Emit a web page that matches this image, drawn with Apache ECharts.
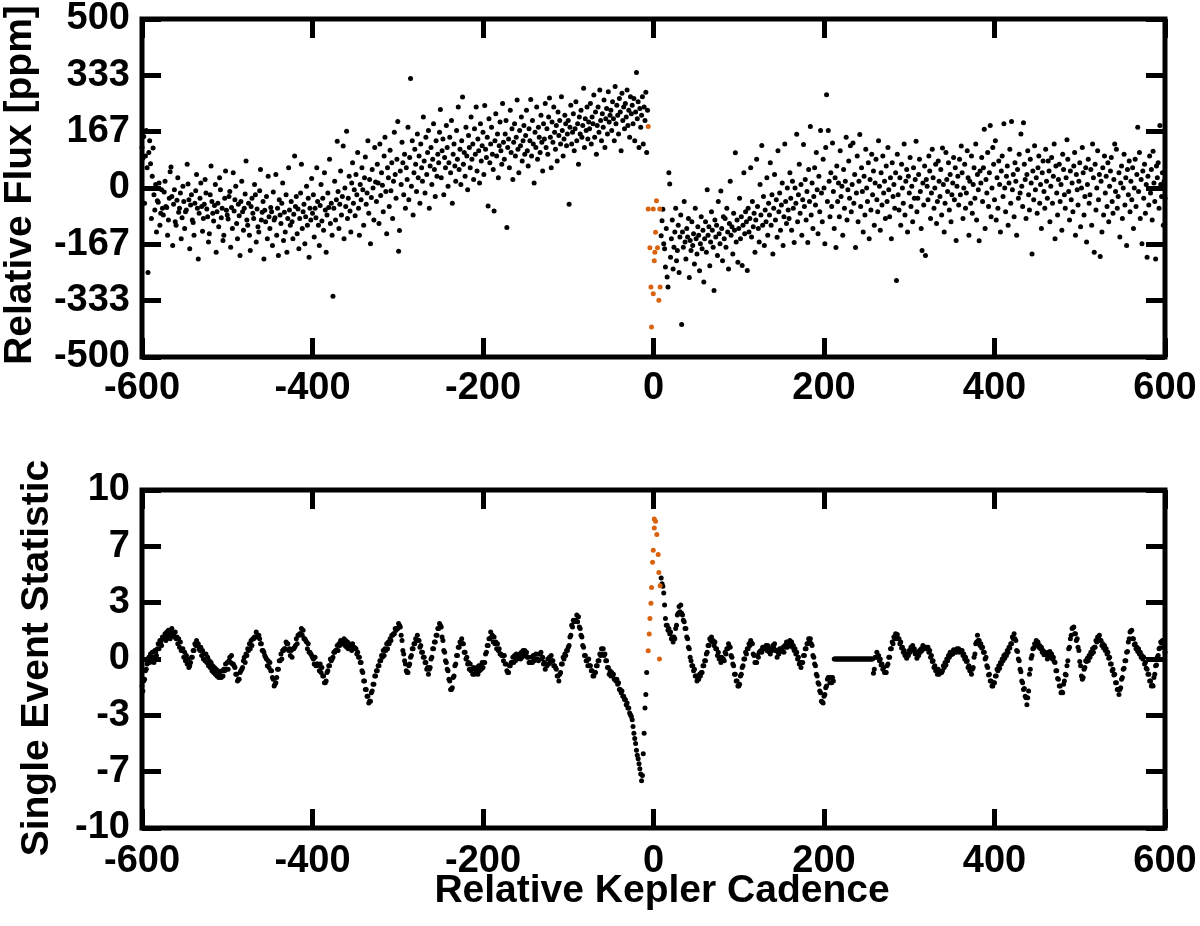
<!DOCTYPE html>
<html>
<head>
<meta charset="utf-8">
<script src="https://cdn.jsdelivr.net/npm/echarts/dist/echarts.min.js"></script>
<style>
html,body{margin:0;padding:0;background:#fff;}
#chart{width:1200px;height:926px;}
</style>
</head>
<body>
<div id="chart"></div>
<script>
// ---------- data ----------
const X_MIN = -600, X_MAX = 600, X_STEP = 200;
const FLUX_MIN = -500, FLUX_MAX = 500;
const SES_MIN = -10, SES_MAX = 10;

// Relative flux [ppm], one value per cadence
const FLUX_PRE_START = -600;
const FLUX_PRE = [
120,88,152,-45,95,170,60,-250,105,140,72,-90,35,118,-20,-65,10,-130,-38,-42,15,-110,-75,-5,-60,
-80,-12,20,-55,-58,-140,-95,-30,48,62,-25,-170,-48,-5,-100,-110,-36,30,-72,-60,-15,-150,-88,5,-40,
-120,-70,-65,70,12,-35,-180,-50,-20,-95,-102,-140,-45,-8,40,-60,-210,-75,-30,15,-55,-128,-90,-48,25,
-15,-62,-85,-160,-135,-20,65,-40,-75,-98,-52,10,-190,-70,-45,-115,30,-5,-88,-60,-155,-140,-30,50,-66,
-80,-92,-25,-10,-175,-58,-120,45,-68,-35,5,-105,-150,-48,-82,-200,-40,20,-70,-125,-60,-18,80,-95,-110,
-45,-140,-185,-55,-30,-75,-90,10,-20,-160,-62,-115,-130,-8,55,-95,-72,-40,-210,-66,-100,-25,-150,35,-85,
-120,-58,-70,-170,-12,-95,-88,40,-140,-60,-200,-35,-80,-105,-45,15,-155,-72,-130,-20,-190,-90,60,-65,-110,
-40,-100,-150,-78,95,-55,-25,-135,-62,-180,-90,-15,70,-120,-70,-48,-165,-85,5,-110,-30,-205,-60,-95,28,
-75,-20,-145,-60,-88,60,-40,-110,-170,-52,10,-98,-30,-125,45,-65,-190,-80,-15,-58,85,-105,-45,-140,-320,
-60,20,-95,-35,138,-10,-120,-48,50,-80,-25,124,-150,0,-55,168,-90,-30,35,-68,-130,15,75,-45,-5,
-82,40,-20,105,-60,-140,10,-35,60,-5,-110,30,92,-48,-15,140,-75,25,-165,-28,55,0,-95,120,18,
-40,70,15,-105,130,-22,45,8,-70,95,150,-10,-135,60,30,-55,112,-8,75,-90,20,165,40,-30,85,
197,-187,-126,50,10,135,75,-20,100,-60,60,25,180,-35,90,324,5,140,-80,45,115,70,-10,160,30,
95,-45,130,60,20,210,80,-15,150,40,105,170,-60,65,120,10,85,190,55,-25,140,35,100,75,165,
232,30,110,145,-20,90,60,185,120,5,75,150,45,200,-45,100,130,65,20,170,85,240,55,115,10,
140,269,70,105,35,180,95,-5,155,120,60,210,85,130,25,175,100,240,50,145,110,15,190,80,125,
165,40,244,115,90,150,-53,205,75,130,180,100,55,-68,140,220,95,160,30,125,195,110,70,250,135,
85,160,200,-117,120,145,60,230,105,175,25,135,190,95,150,260,115,45,170,125,210,80,140,185,100,
155,230,110,65,175,140,262,95,200,130,15,165,120,240,85,180,150,105,215,135,50,190,145,250,120,
175,100,210,266,150,60,195,135,240,165,115,185,80,225,155,200,130,270,170,95,145,215,190,125,160,
200,-48,180,245,130,165,220,110,175,255,140,190,70,210,160,230,150,185,295,120,205,170,240,145,195,
175,250,130,210,190,275,150,225,100,185,240,165,290,200,140,220,180,260,120,205,235,160,285,195,215,
230,170,255,205,140,300,190,245,215,160,265,225,110,280,200,240,175,250,210,290,185,230,150,270,220,
245,190,265,140,225,342,205,255,120,235,180,215,270,130,240,200,283,105,230
];
const FLUX_POST_START = 9;
const FLUX_POST = [
-141,-97,-63,-165,-180,-234,-120,-263,-293,45,12,-205,-150,-95,-240,-175,-130,-60,-215,-185,-110,-250,-145,-80,-404,
-130,-175,-40,-160,-210,-120,-145,-90,-265,-155,-185,-100,-170,-135,-225,-60,-150,-195,-115,-140,-245,-165,-85,-180,-125,
-278,-150,-100,-190,-5,-140,-115,-230,-160,-70,-125,-175,-303,-95,-145,-110,-200,-40,-135,-165,-9,-120,-215,-85,-150,
-90,-175,-60,-130,-240,-105,20,-140,-115,-195,-75,-125,104,-160,-95,-220,-120,-30,-150,-85,-229,-110,45,-135,-70,
-100,-244,-60,-130,-90,60,-145,-40,-115,-75,-190,-95,85,-55,-120,-160,10,-80,126,-110,-25,-170,-65,-100,30,
-140,-45,-80,75,-110,-20,-195,-60,40,-95,-35,-146,110,-70,-15,-125,-50,15,-170,-85,130,-40,-105,0,-65,
-90,45,-30,-125,20,-60,-161,0,-45,159,-100,-20,70,-75,10,-140,-35,129,-55,25,-95,-10,-161,55,-40,
182,-80,15,-120,-25,60,-50,105,-5,-135,35,-70,170,-15,-100,85,0,-165,120,276,-40,170,20,-85,45,
-55,133,-10,-120,30,-176,65,-40,15,-85,110,-25,5,-140,55,-60,20,150,-95,-5,80,-30,125,-70,10,
133,-45,40,-176,-15,95,-100,20,158,-55,60,-10,-130,35,-80,115,0,-40,75,-150,25,-65,100,-20,50,
-110,15,85,-35,-70,140,5,-125,45,-50,95,-15,20,-90,65,-40,120,-5,-85,30,-150,75,-25,10,-60,
45,-274,100,-20,-65,30,-110,70,0,-45,130,-80,20,55,-130,35,-15,90,-55,5,-100,60,-30,25,138,
-70,-30,40,85,-10,-120,-185,15,-50,65,-200,25,5,-35,95,50,-90,-15,115,30,-60,0,70,-105,-40,
80,20,-25,55,-80,118,10,-130,-45,105,25,-10,75,-65,40,-100,-20,15,90,-35,60,-155,5,35,-50,
85,-20,124,45,-90,0,70,-60,-15,110,30,-140,20,-45,95,-75,10,60,-30,130,-95,40,-5,-156,50,
15,90,-40,60,174,-120,25,-15,105,-55,45,185,-85,0,120,70,-35,140,-95,30,-60,80,10,-130,50,
95,-25,190,0,-70,35,65,-110,15,115,-45,197,-5,40,-85,75,20,-140,55,-30,100,-15,160,5,-55,
193,70,25,-90,40,110,-20,-65,85,15,-195,50,-35,125,-5,30,-75,60,95,-45,10,-120,45,80,-10,
-60,115,20,-30,80,50,-100,5,90,-45,35,130,-150,65,-15,-80,25,70,-40,10,-125,100,55,-20,-60,
30,143,85,-10,-95,50,-35,15,-70,65,105,-140,40,-5,-50,20,75,-115,0,120,45,-80,-25,60,-160,
10,85,-45,-20,55,-110,130,30,-190,70,-65,0,110,-35,40,-203,20,-130,60,-80,95,-15,35,-55,75,
-100,5,50,90,-40,-75,25,130,-10,115,-60,-25,45,-145,15,65,-90,0,100,-50,30,-170,55,-20,80,
-70,20,-35,60,-120,0,85,-55,40,180,-10,105,-90,25,-165,50,-30,70,-75,10,-205,35,-50,95,-15,
55,-95,109,15,-40,-210,65,30,75,-60,185,10,-25,45,-110,20,-30
];
// in-transit cadences (orange): [cadence, ppm]
const FLUX_TRANSIT = [
[-6.2,182],[-6.2,-62],[-4.2,-177],[-3.0,-293],[-2.3,-411],[-0.3,-313],[-0.3,-62],[0.9,-215],
[1.6,-190],[2.4,-131],[3.5,-38],[4.7,-177],[6.3,-332],[7.4,-62],[7.8,-293]
];

// Single event statistic, one value per cadence
const SES_PRE_START = -600;
const SES_PRE = [
-1.6,-1.9,-1.3,-1.2,-0.7,-0.6,-0.3,-0.2,0.1,-0.2,0.3,0.0,0.4,0.1,-0.2,0.5,0.4,0.2,0.6,0.9,0.6,1.1,1.0,0.8,1.3,
1.2,1.3,1.5,1.1,1.6,1.3,1.7,1.4,1.2,1.6,1.8,1.4,1.5,1.3,1.6,1.2,1.3,0.9,1.2,0.7,1.0,0.5,0.5,0.6,0.1,
0.4,-0.1,0.2,-0.3,0.0,-0.5,-0.4,-0.2,0.1,0.1,0.5,0.5,0.9,0.8,1.1,0.8,0.9,0.6,0.5,0.7,0.2,0.5,0.0,0.3,-0.1,
0.3,-0.2,0.1,-0.4,-0.1,-0.5,-0.2,-0.7,-0.4,-0.8,-0.5,-0.9,-0.6,-1.0,-0.7,-1.1,-0.8,-1.05,-1.1,-0.7,-1.0,-0.6,-0.7,-0.3,-0.6,
-0.2,-0.6,-0.1,0.1,-0.2,0.2,-0.3,-0.3,-0.4,-0.5,-0.9,-0.9,-1.3,-1.2,-1.2,-0.8,-0.7,-0.6,-0.5,-0.1,0.1,-0.2,0.3,0.2,0.6,
0.5,0.9,0.6,1.1,0.8,1.2,1.2,1.3,1.3,1.6,1.3,1.4,1.4,1.2,0.9,0.9,0.5,0.5,0.4,0.2,0.1,0.0,-0.4,-0.1,-0.5,
-0.2,-0.7,-0.7,-1.1,-1.2,-1.6,-1.5,-1.4,-1.1,-0.6,-0.6,-0.1,-0.1,0.3,0.0,0.5,0.5,0.6,0.6,1.0,0.9,0.9,0.5,0.6,0.2,
0.5,0.1,0.6,0.6,0.7,0.8,1.2,0.9,1.4,1.4,1.5,1.5,1.8,1.4,1.7,1.2,1.2,1.1,1.0,0.6,0.9,0.4,0.4,0.3,0.2,
0.1,0.0,-0.3,0.1,-0.4,-0.3,-0.3,-0.4,-0.7,-0.3,-0.8,-0.5,-1.0,-1.0,-1.4,-1.4,-1.3,-0.8,-0.7,-0.4,-0.4,0.0,-0.1,0.0,0.1,
0.4,0.4,0.5,0.5,0.8,0.5,0.9,0.8,1.1,1.0,1.0,0.9,1.2,0.8,1.1,0.7,1.0,0.6,0.9,0.8,0.8,0.5,0.9,0.6,0.7,
0.6,0.6,0.3,0.4,0.1,0.1,-0.2,-0.2,-0.7,-0.8,-1.3,-1.3,-1.8,-1.8,-2.2,-2.2,-2.6,-2.5,-2.5,-2.0,-1.9,-1.5,-1.5,-1.0,-1.0,
-0.7,-0.7,-0.4,-0.4,-0.1,-0.1,0.2,0.1,0.5,0.2,0.6,0.5,0.9,0.6,1.0,0.9,1.2,1.1,1.4,1.4,1.5,1.5,1.8,1.7,1.8,
1.8,2.1,2.0,1.9,1.4,1.1,0.5,0.3,-0.1,-0.3,-0.7,-0.8,-0.8,-0.4,-0.3,0.1,0.2,0.6,0.6,0.9,0.9,1.2,1.1,1.4,1.1,
1.1,0.7,0.8,0.4,0.4,0.1,0.1,-0.2,-0.2,-0.6,-0.5,-0.9,-0.6,-0.5,0.0,0.1,0.6,0.6,1.0,1.0,1.4,1.4,1.8,1.8,2.1,
2.0,1.9,1.3,1.1,0.5,0.4,-0.1,-0.2,-0.6,-0.7,-1.2,-1.3,-1.8,-1.8,-1.7,-1.1,-1.0,-0.4,-0.3,0.2,0.2,0.7,0.7,1.0,0.9,
1.2,0.9,0.9,0.4,0.4,0.0,0.1,-0.3,-0.2,-0.6,-0.3,-0.7,-0.6,-0.9,-0.5,-0.9,-0.6,-0.8,-0.5,-0.9,-0.4,-0.7,-0.4,-0.6,-0.2,
-0.5,-0.2,-0.2,0.3,0.4,0.8,0.8,1.2,1.2,1.6,1.3,1.4,1.0,1.3,0.9,1.0,0.6,0.9,0.5,0.6,0.3,0.3,0.2,0.2,-0.1,
0.2,-0.3,-0.3,-0.7,-0.8,-0.8,-0.4,-0.4,-0.2,-0.2,0.1,-0.2,0.2,-0.1,0.3,0.0,0.2,0.2,0.3,0.0,0.4,0.1,0.5,0.2,0.5,
0.3,0.4,0.1,0.1,-0.2,-0.2,-0.2,0.1,-0.2,0.2,-0.1,0.0,0.3,0.0,0.0,-0.1,0.3,0.3,0.4,0.0,0.1,-0.3,-0.2,-0.6,-0.3,
-0.4,0.0,-0.3,0.1,-0.2,0.2,-0.1,-0.1,-0.4,-0.4,-0.5,-0.6,-1.0,-1.0,-1.3,-0.9,-0.8,-0.3,-0.3,0.1,0.0,0.3,0.2,0.5,0.5,
0.7,0.8,1.3,1.4,2.0,1.9,2.3,2.2,2.3,2.3,2.6,2.2,2.5,1.9,1.8,1.4,1.3,0.8,0.7,0.2,0.2,-0.1,-0.1,-0.4,0.0,
-0.4,-0.4,-0.7,-0.7,-1.0,-1.0,-0.8,-0.8,-0.4,-0.4,-0.1,-0.1,0.3,0.2,0.6,0.3,0.6,0.2,0.3,-0.1,-0.1,-0.5,-0.5,-0.9,-0.7,
-1.0,-0.8,-1.0,-0.9,-1.2,-1.2,-1.3,-1.2,-1.5,-1.4,-1.8,-1.8,-2.0,-1.9,-2.2,-2.2,-2.4,-2.4,-2.7,-2.6,-2.9,-2.9,-3.2,-3.3,-3.4,
-3.6,-4.0,-4.4,-4.7,-5.0,-5.4,-5.7,-5.9,-6.2,-6.5,-6.8,-7.2,-6.9,-5.6,-4.4,-2.9,-2.1,-0.8
];
const SES_POST_START = 9;
const SES_POST = [
4.8,4.45,4.3,3.9,3.2,2.4,2.0,2.0,1.7,1.8,1.5,1.6,1.2,1.3,1.0,1.3,1.2,1.8,2.0,2.6,2.7,3.1,2.8,3.2,2.7,
2.6,2.3,2.2,1.8,1.8,1.3,1.2,0.7,0.6,0.1,-0.1,-0.4,-0.4,-0.7,-0.6,-1.0,-1.0,-1.3,-1.2,-1.2,-0.9,-1.0,-0.8,-0.8,-0.4,
-0.4,-0.1,-0.1,0.3,0.4,0.8,0.8,1.2,1.1,1.3,1.0,1.1,0.8,1.0,0.6,0.6,0.2,0.4,0.0,0.1,-0.2,0.1,0.0,0.0,-0.1,
0.4,0.3,0.6,0.6,0.9,0.75,0.7,0.2,0.1,-0.3,-0.4,-0.9,-0.9,-1.3,-1.3,-1.6,-1.6,-1.5,-1.0,-0.9,-0.5,-0.4,0.0,0.0,0.4,
0.3,0.6,0.6,0.9,0.8,1.1,0.95,0.9,0.3,0.2,-0.2,-0.2,-0.2,0.2,0.1,0.4,0.45,0.5,0.4,0.7,0.6,0.7,0.65,0.8,0.5,
0.8,0.45,0.6,0.3,0.6,0.5,0.8,0.7,0.9,0.5,0.5,0.1,0.4,0.3,0.6,0.5,0.6,0.45,0.7,0.4,0.8,0.7,1.0,0.7,1.0,
0.8,1.1,0.95,1.0,0.7,0.8,0.5,0.6,0.3,0.4,0.0,0.1,-0.3,-0.2,-0.5,-0.2,-0.2,0.2,0.2,0.6,0.6,0.9,0.9,1.2,1.05,
1.2,0.9,0.8,0.2,0.1,-0.3,-0.4,-0.9,-1.0,-1.4,-1.5,-1.9,-2.0,-2.5,-2.55,-2.6,-2.2,-2.1,-1.7,-1.6,-1.2,-1.1,-1.1,-1.4,-1.1,
-1.4,-1.1,-1.3,0,0,0,0,0,0,0,0,0,0,0,0,0,0,0,0,0,0,0,0,0,0,
0,0,0,0,0,0,0,0,0,0,0,0,0,0,0,0,0,0,0,0,0,0,0,0,-0.85,
-0.6,0.1,0.1,0.4,0.1,0.2,-0.1,0.0,-0.35,-0.3,-0.6,-0.5,-0.8,-0.8,-0.8,-0.4,-0.3,0.1,0.1,0.6,0.6,1.0,0.9,1.3,1.2,
1.5,1.2,1.45,1.2,1.2,0.9,1.0,0.65,0.7,0.4,0.5,0.2,0.3,0.05,0.3,0.2,0.5,0.4,0.7,0.65,0.8,0.5,0.6,0.3,0.4,
0.05,0.3,0.2,0.5,0.4,0.6,0.5,0.8,0.65,0.7,0.6,0.7,0.65,0.7,0.4,0.5,0.1,0.2,-0.15,-0.1,-0.5,-0.4,-0.7,-0.6,-0.9,
-0.6,-0.9,-0.75,-0.8,-0.8,-0.7,-0.4,-0.5,-0.2,-0.35,0.0,-0.1,0.2,0.1,0.4,0.25,0.4,0.3,0.55,0.4,0.5,0.4,0.6,0.45,0.6,
0.4,0.5,0.45,0.5,0.2,0.3,0.0,0.1,-0.15,-0.1,-0.5,-0.4,-0.7,-0.6,-0.9,-0.6,-0.5,0.1,0.3,0.9,1.0,1.4,1.1,1.1,0.8,
0.9,0.65,0.7,0.4,0.4,0.0,0.1,-0.4,-0.5,-0.95,-0.9,-1.3,-1.3,-1.6,-1.6,-1.4,-1.4,-1.0,-1.0,-0.6,-0.7,-0.4,-0.55,-0.2,-0.3,
0.0,-0.1,0.2,0.05,0.3,0.2,0.5,0.4,0.7,0.65,0.9,0.9,1.3,1.2,1.5,1.2,1.1,0.5,0.45,0.0,-0.1,-0.6,-0.75,-1.3,-1.4,
-1.8,-1.75,-2.2,-2.3,-2.7,-2.3,-1.9,-0.9,-0.6,0.05,0.2,0.6,0.65,0.9,0.8,1.1,0.9,1.0,0.7,0.8,0.6,0.7,0.4,0.5,0.25,
0.4,0.25,0.3,0.0,0.4,0.1,0.45,0.2,0.3,0.0,0.1,-0.15,-0.2,-0.7,-0.7,-1.15,-1.2,-1.6,-1.6,-2.0,-1.95,-2.0,-1.5,-1.3,-0.9,
-0.95,-0.4,-0.1,0.6,0.7,1.2,1.4,1.8,1.85,1.9,1.5,1.5,1.1,1.2,0.7,0.5,-0.15,-0.4,-1.0,-1.2,-1.1,-0.6,-0.5,-0.1,-0.15,
0.05,-0.1,0.2,0.1,0.4,0.3,0.6,0.4,0.7,0.7,1.1,1.0,1.3,1.25,1.4,1.1,1.1,0.8,0.9,0.65,0.8,0.5,0.6,0.3,0.4,
0.05,0.1,-0.3,-0.3,-0.7,-0.6,-0.95,-0.9,-1.4,-1.4,-1.8,-1.8,-2.1,-1.8,-1.7,-1.2,-1.1,-0.6,-0.55,-0.1,-0.1,0.4,0.45,1.0,1.2,
1.6,1.65,1.7,1.2,1.2,0.85,0.9,0.6,0.7,0.45,0.6,0.3,0.4,0.1,0.2,0.0,0.1,-0.3,-0.2,-0.55,-0.6,-0.9,-0.9,-1.3,-1.3,
-1.6,-1.55,-1.6,-1.1,-0.9,-0.4,-0.35,0.1,0.2,0.6,0.65,1.0,0.95,1.1,0.7,0.7,0.4
];
const SES_TRANSIT = [
[-6.2,0.49],[-5.0,1.48],[-4.2,2.39],[-3.0,3.30],[-2.3,4.23],[-1.1,5.72],[-0.3,6.43],[0.9,7.75],
[0.9,8.29],[2.4,8.15],[3.9,7.36],[5.5,6.19],[6.3,5.12],[7.8,4.33],[7.0,0.0]
];

// ---------- chart ----------
const toPairs = (start, arr) => arr.map((v, i) => [start + i, v]);
const FONT = '"Liberation Sans", "Helvetica", Arial, sans-serif';
const BLACK = '#000000', ORANGE = '#d9620f';

function xAxisPair(grid, margin) {
  const base = {
    gridIndex: grid, type: 'value', min: X_MIN, max: X_MAX, interval: X_STEP,
    axisLine: {show: false, onZero: false}, splitLine: {show: false},
    axisTick: {show: true, inside: true, length: 19, lineStyle: {color: BLACK, width: 5}}
  };
  return [
    Object.assign({}, base, {position: 'bottom',
      axisLabel: {show: true, color: BLACK, fontSize: 38, fontWeight: 'bold', fontFamily: FONT, margin: margin}}),
    Object.assign({}, base, {position: 'top', axisLabel: {show: false}})
  ];
}
function yAxisPair(grid, min, max) {
  const base = {
    gridIndex: grid, type: 'value', min: min, max: max, interval: (max - min) / 6,
    axisLine: {show: false, onZero: false}, splitLine: {show: false},
    axisTick: {show: true, inside: true, length: 19, lineStyle: {color: BLACK, width: 5}}
  };
  return [
    Object.assign({}, base, {position: 'left',
      axisLabel: {show: true, color: BLACK, fontSize: 38, fontWeight: 'bold', fontFamily: FONT, margin: 12,
        formatter: v => String(Math.round(v) === 0 ? 0 : Math.round(v))}}),
    Object.assign({}, base, {position: 'right', axisLabel: {show: false}})
  ];
}

const chart = echarts.init(document.getElementById('chart'), null, {renderer: 'canvas'});
const scatter = (xi, yi, data, color) => ({
  type: 'scatter', xAxisIndex: xi, yAxisIndex: yi, data: data,
  symbol: 'circle', symbolSize: 5, itemStyle: {color: color, opacity: 1},
  silent: true, animation: false
});

chart.setOption({
  animation: false,
  backgroundColor: '#ffffff',
  grid: [
    {left: 142, top: 18, width: 1023, height: 339, show: true, borderColor: BLACK, borderWidth: 5, backgroundColor: 'transparent'},
    {left: 142, top: 490, width: 1023, height: 338, show: true, borderColor: BLACK, borderWidth: 5, backgroundColor: 'transparent'}
  ],
  xAxis: [].concat(xAxisPair(0, 13), xAxisPair(1, 15)),
  yAxis: [].concat(yAxisPair(0, FLUX_MIN, FLUX_MAX), yAxisPair(1, SES_MIN, SES_MAX)),
  series: [
    scatter(0, 0, toPairs(FLUX_PRE_START, FLUX_PRE).concat(toPairs(FLUX_POST_START, FLUX_POST)), BLACK),
    scatter(0, 0, FLUX_TRANSIT, ORANGE),
    scatter(2, 2, toPairs(SES_PRE_START, SES_PRE).concat(toPairs(SES_POST_START, SES_POST)), BLACK),
    scatter(2, 2, SES_TRANSIT, ORANGE)
  ],
  graphic: [
    {type: 'text', x: 20, y: 185, rotation: Math.PI / 2,
      style: {text: 'Relative Flux [ppm]', font: 'bold 39px ' + FONT, fill: BLACK,
        align: 'center', verticalAlign: 'middle', textAlign: 'center', textVerticalAlign: 'middle'}},
    {type: 'text', x: 37, y: 658, rotation: Math.PI / 2,
      style: {text: 'Single Event Statistic', font: 'bold 39px ' + FONT, fill: BLACK,
        align: 'center', verticalAlign: 'middle', textAlign: 'center', textVerticalAlign: 'middle'}},
    {type: 'text', x: 662, y: 891,
      style: {text: 'Relative Kepler Cadence', font: 'bold 39px ' + FONT, fill: BLACK,
        align: 'center', verticalAlign: 'middle', textAlign: 'center', textVerticalAlign: 'middle'}}
  ]
});
</script>
</body>
</html>
